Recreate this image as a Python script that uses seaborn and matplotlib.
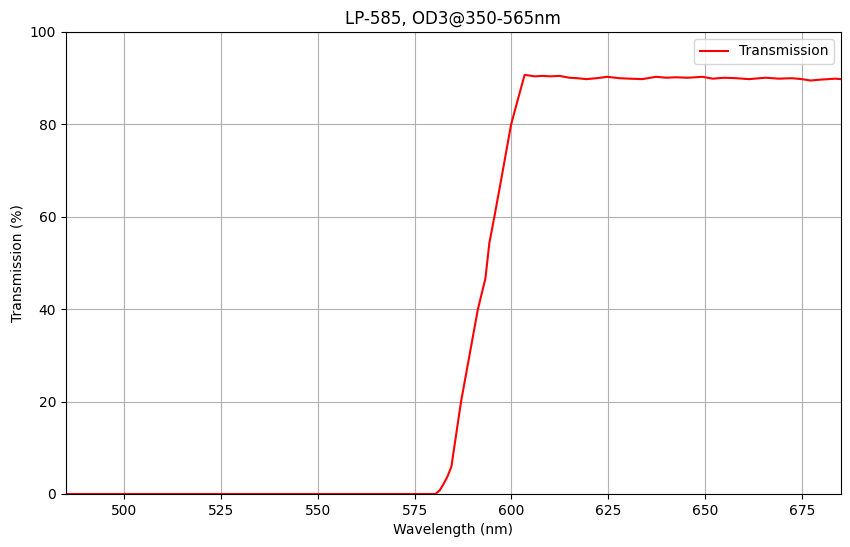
import pandas as pd
import matplotlib
matplotlib.use("Agg")
import matplotlib.pyplot as plt
import seaborn as sns

# Wavelength (nm) and transmission (%)
wavelength = [485.0, 500.0, 550.0, 575.0, 580.4, 581.5, 582.5, 583.5, 584.5,
              587.0, 589.5, 591.3, 593.3, 594.3, 595.6, 597.5, 599.9, 601.8,
              603.4, 604.5, 606.0, 608.0, 610.0, 612.4, 615.0, 617.0, 619.3,
              622.0, 624.8, 627.8, 630.5, 633.8, 637.3, 640.0, 642.4, 645.5,
              649.3, 652.0, 655.0, 658.0, 661.3, 665.6, 669.0, 672.4, 675.0,
              677.2, 680.0, 683.6, 685.0]
transmission = [0.0, 0.0, 0.0, 0.0, 0.0, 0.8, 2.2, 3.8, 5.9,
                20.0, 31.5, 39.8, 46.7, 54.3, 60.0, 68.7, 79.9, 85.8,
                90.7, 90.6, 90.4, 90.5, 90.4, 90.5, 90.1, 90.0, 89.8,
                90.0, 90.3, 90.0, 89.9, 89.8, 90.3, 90.1, 90.2, 90.1,
                90.3, 89.9, 90.1, 90.0, 89.8, 90.1, 89.9, 90.0, 89.8,
                89.5, 89.7, 89.9, 89.8]

df = pd.DataFrame({"Wavelength": wavelength, "Transmission": transmission})

fig = plt.figure(figsize=(8.5, 5.47), dpi=100)
ax = fig.add_subplot(111)
sns.lineplot(data=df, x="Wavelength", y="Transmission", color="red",
             label="Transmission", ax=ax)

ax.set_xlim(485, 685)
ax.set_ylim(0, 100)
ax.set_title("LP-585, OD3@350-565nm")
ax.set_xlabel("Wavelength (nm)")
ax.set_ylabel("Transmission (%)")
ax.grid(True)
ax.legend(loc="upper right")

plt.subplots_adjust(left=0.0776, right=0.989, top=0.9415, bottom=0.0969)
plt.savefig("out.png", dpi=100)
